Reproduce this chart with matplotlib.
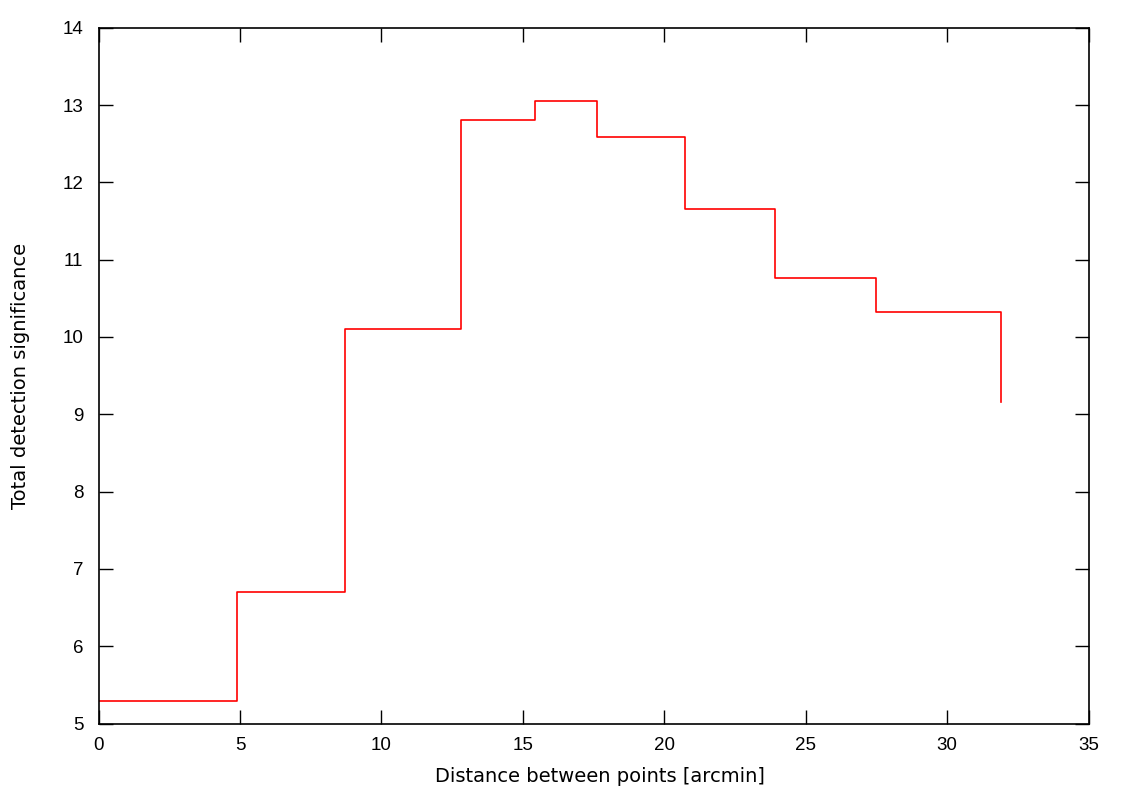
import matplotlib
matplotlib.use("Agg")
import matplotlib.pyplot as plt

plt.rcParams['font.family'] = ['Liberation Sans', 'DejaVu Sans']

distance = [0.0, 4.88, 8.71, 12.81, 15.41, 17.62, 20.73, 23.91, 27.49, 31.90]
significance = [5.29, 6.70, 10.10, 12.80, 13.05, 12.59, 11.65, 10.76, 10.32, 9.16]

fig = plt.figure(figsize=(11.27, 7.89), dpi=100)
ax = fig.add_axes([98.6 / 1127, 1 - 723.5 / 789, (1088.7 - 98.6) / 1127, (723.5 - 27.7) / 789])

ax.plot(distance, significance, drawstyle='steps-post', color='red', lw=1.2)

ax.set_xlim(0, 35)
ax.set_ylim(5, 14)
ax.set_xticks(range(0, 36, 5))
ax.set_yticks(range(5, 15))
ax.tick_params(direction='in', length=10, width=1, top=True, right=True,
               labelsize=13.5)
ax.tick_params(axis='x', pad=10)
ax.tick_params(axis='y', pad=11)
for lbl in ax.get_xticklabels() + ax.get_yticklabels():
    lbl.set_fontfamily(['Liberation Sans'])
for s in ax.spines.values():
    s.set_linewidth(1.2)
    s.set_color('black')

ax.set_xlabel('Distance between points [arcmin]', fontsize=14,
              family=['DejaVu Sans'])
ax.set_ylabel('Total detection significance', fontsize=14,
              family=['DejaVu Sans'])
ax.xaxis.set_label_coords(600 / 1127, 1 - 777 / 789, transform=fig.transFigure)
ax.yaxis.set_label_coords(21 / 1127, 1 - 376 / 789, transform=fig.transFigure)
ax.xaxis.label.set_va('center')
ax.yaxis.label.set_va('center')

fig.savefig('out.png', dpi=100)
